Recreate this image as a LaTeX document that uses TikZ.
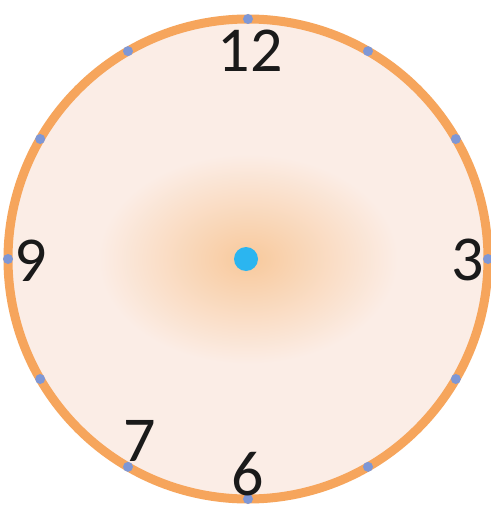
\documentclass[tikz,border=0pt]{standalone}
\usepackage{fontspec}
\setmainfont{Carlito}
\usetikzlibrary{calc}
\definecolor{face}{HTML}{FBEDE6}
\definecolor{glow}{HTML}{F8C99C}
\definecolor{ring}{HTML}{F6A55C}
\definecolor{tick}{HTML}{7E97D6}
\definecolor{hub}{HTML}{2BB5F0}
\definecolor{digit}{HTML}{1A1A1A}
\begin{document}
\begin{tikzpicture}[x=1pt,y=-1pt,
  num/.style={text=digit,font=\fontsize{64}{64}\selectfont,inner sep=0pt,anchor=center},
  tickdot/.style={circle,fill=tick,inner sep=0pt,minimum size=10pt}]
\useasboundingbox (0,0) rectangle (490,511);
\fill[white] (0,0) rectangle (490,511);
\coordinate (c) at (248,259);
\fill[face] (c) circle[radius=240];
\shade[inner color=glow,outer color=face] (c) ellipse[x radius=150,y radius=105];
\draw[ring,line width=9pt] (c) circle[radius=240];
\foreach \i in {0,...,11}{
  \node[tickdot] (t\i) at ($(c)+({90-30*\i}:240)$) {};
}
\node[circle,fill=hub,inner sep=0pt,minimum size=24pt] (h) at (246,259) {};
\node[num] (n12) at (250,51) {12};
\node[num] (n9) at (31,261) {9};
\node[num] (n3) at (468,260) {3};
\node[num] (n7) at (140,441) {7};
\node[num] (n6) at (248,474) {6};
\end{tikzpicture}
\end{document}
